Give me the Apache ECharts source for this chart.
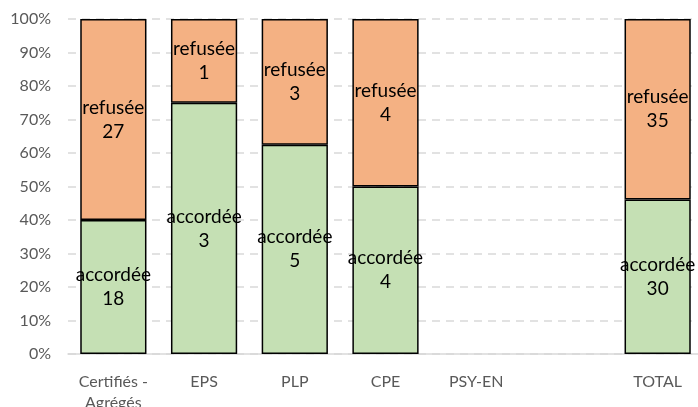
<!DOCTYPE html>
<html>
<head>
<meta charset="utf-8">
<script src="https://cdn.jsdelivr.net/npm/echarts@6/dist/echarts.min.js"></script>
<style>
html,body{margin:0;padding:0;background:#fff;}
#chart{width:698px;height:407px;}
</style>
</head>
<body>
<div id="chart"></div>
<script>
var categories = ['Certifiés -\nAgrégés', 'EPS', 'PLP', 'CPE', 'PSY-EN', '', 'TOTAL'];
var accordee = [18, 3, 5, 4, 0, null, 30];
var refusee = [27, 1, 3, 4, 0, null, 35];
var yTicks = [0, 10, 20, 30, 40, 50, 60, 70, 80, 90, 100];

// part de chaque série dans le total de la catégorie
function pct(arr, i) {
    var tot = (accordee[i] || 0) + (refusee[i] || 0);
    if (!tot) return null;
    return arr[i] / tot * 100;
}
var accPct = accordee.map(function (v, i) { return pct(accordee, i); });
var refPct = refusee.map(function (v, i) { return pct(refusee, i); });

var font = 'Lato, sans-serif';

var chart = echarts.init(document.getElementById('chart'));
chart.setOption({
    animation: false,
    grid: {left: 68, right: -5, top: 19, bottom: 53, outerBoundsMode: 'none', containLabel: false},
    xAxis: {
        type: 'category',
        data: categories,
        axisLine: {lineStyle: {color: '#d9d9d9', width: 1.5}},
        axisTick: {show: false},
        axisLabel: {color: '#595959', fontSize: 16, fontFamily: font, margin: 17, lineHeight: 21, interval: 0}
    },
    yAxis: {
        type: 'value',
        min: 0,
        max: 100,
        interval: 10,
        axisLine: {show: false},
        axisTick: {show: false},
        axisLabel: {
            color: '#595959', fontSize: 16, fontFamily: font, margin: 17,
            formatter: function (v) { return yTicks.indexOf(v) >= 0 ? v + '%' : ''; }
        },
        splitLine: {lineStyle: {color: '#d9d9d9', type: [8, 6], width: 1.5}}
    },
    series: [
        {
            name: 'accordée',
            type: 'bar',
            stack: 'a',
            barWidth: '73%',
            data: accPct,
            itemStyle: {color: '#c5e0b4', borderColor: '#000', borderWidth: 1.5},
            label: {
                show: true,
                position: 'inside',
                color: '#000',
                fontSize: 19,
                fontFamily: font,
                lineHeight: 24,
                formatter: function (p) { return 'accordée\n' + accordee[p.dataIndex]; }
            }
        },
        {
            name: 'refusée',
            type: 'bar',
            stack: 'a',
            barWidth: '73%',
            data: refPct,
            itemStyle: {color: '#f4b183', borderColor: '#000', borderWidth: 1.5},
            label: {
                show: true,
                position: 'inside',
                color: '#000',
                fontSize: 19,
                fontFamily: font,
                lineHeight: 24,
                formatter: function (p) { return 'refusée\n' + refusee[p.dataIndex]; }
            }
        }
    ]
});
</script>
</body>
</html>
